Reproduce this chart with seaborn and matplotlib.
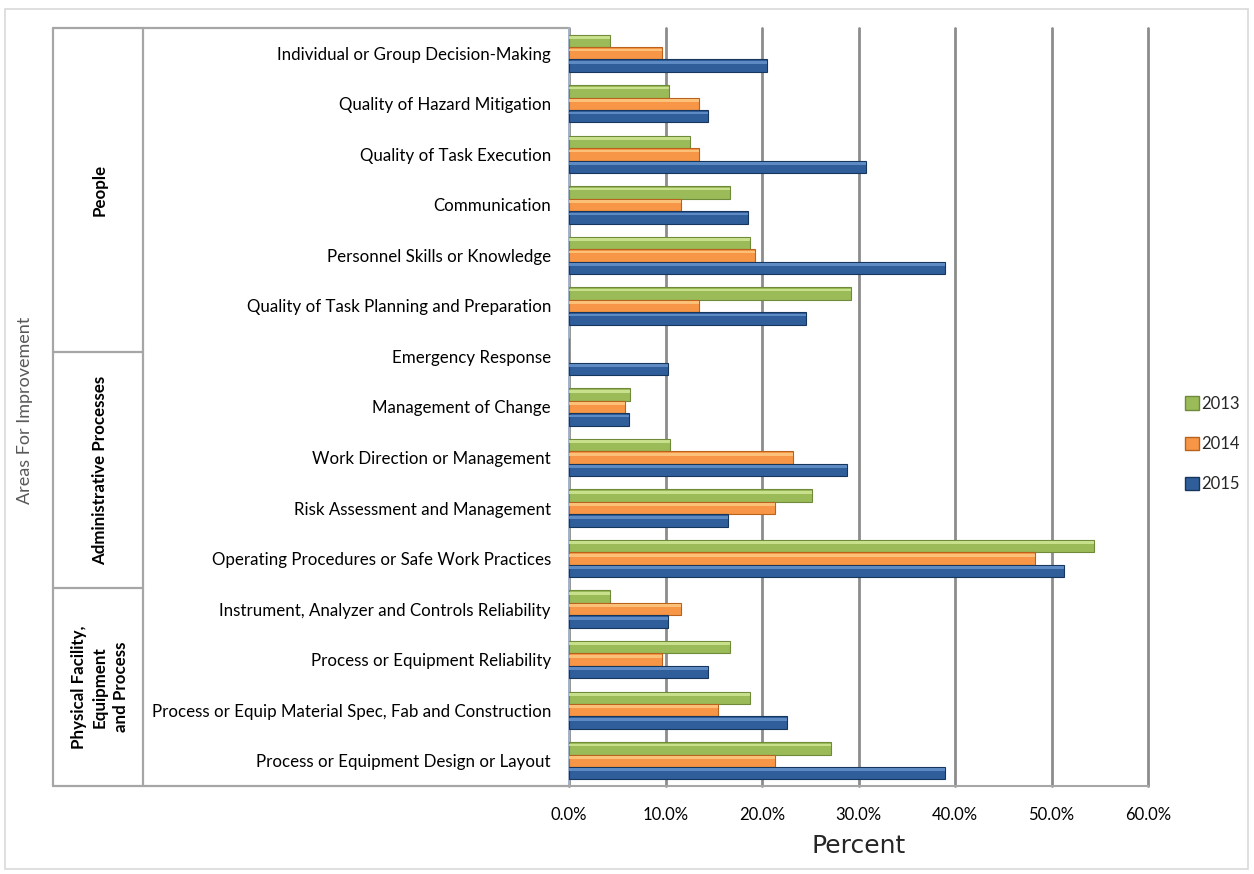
import matplotlib
matplotlib.use("Agg")
import matplotlib.pyplot as plt
from matplotlib.lines import Line2D
from matplotlib.patches import Rectangle, Patch
from matplotlib.ticker import FixedLocator, PercentFormatter
import seaborn as sns
import pandas as pd
import numpy as np

categories = [
    "Individual or Group Decision-Making",
    "Quality of Hazard Mitigation",
    "Quality of Task Execution",
    "Communication",
    "Personnel Skills or Knowledge",
    "Quality of Task Planning and Preparation",
    "Emergency Response",
    "Management of Change",
    "Work Direction or Management",
    "Risk Assessment and Management",
    "Operating Procedures or Safe Work Practices",
    "Instrument, Analyzer and Controls Reliability",
    "Process or Equipment Reliability",
    "Process or Equip Material Spec, Fab and Construction",
    "Process or Equipment Design or Layout",
]
years = ["2013", "2014", "2015"]
v2013 = [4.2, 10.4, 12.5, 16.7, 18.8, 29.2, 0.0, 6.3, 10.5, 25.2, 54.4, 4.2, 16.7, 18.8, 27.2]
v2014 = [9.6, 13.5, 13.5, 11.6, 19.3, 13.5, 0.0, 5.8, 23.2, 21.3, 48.3, 11.6, 9.6, 15.4, 21.3]
v2015 = [20.5, 14.4, 30.8, 18.5, 39.0, 24.6, 10.3, 6.2, 28.8, 16.5, 51.3, 10.3, 14.4, 22.6, 39.0]
groups = ["People", "Administrative Processes", "Physical Facility,\nEquipment\nand Process"]
x_ticks = [0, 10, 20, 30, 40, 50, 60]

colors = {"2013": "#9BBB59", "2014": "#F79646", "2015": "#2F5E9B"}
edges = {"2013": "#6E8A3A", "2014": "#B8621E", "2015": "#17365D"}
lights = {"2013": "#D8EC9C", "2014": "#FFD08A", "2015": "#6F9AD3"}

df = pd.DataFrame({
    "Area": categories * 3,
    "Year": [y for y, v in zip(years, [v2013, v2014, v2015]) for _ in v],
    "Percent": v2013 + v2014 + v2015,
})

sns.set_theme(style="white")
plt.rcParams["font.family"] = ["Lato", "DejaVu Sans"]

W, H = 1254, 874
fig = plt.figure(figsize=(W / 100, H / 100), dpi=100)
L, R, T, B = 569, 1148, 28, 786
ax = fig.add_axes([L / W, 1 - B / H, (R - L) / W, (B - T) / H])

sns.barplot(data=df, y="Area", x="Percent", hue="Year", hue_order=years,
            order=categories, palette=colors, width=0.74, orient="h",
            saturation=1, ax=ax, legend=False, zorder=3)

# bevel-like styling derived from each bar patch
for i, yr in enumerate(years):
    for p in ax.containers[i]:
        p.set_edgecolor(edges[yr])
        p.set_linewidth(0.8)
        x0, y0 = p.get_x(), p.get_y()
        w, h = p.get_width(), p.get_height()
        if w > 0:
            ax.add_patch(Rectangle((x0, y0 + h * 0.12), w, h * 0.22,
                                   facecolor=lights[yr], edgecolor="none",
                                   alpha=0.75, zorder=4))

ax.set_xlim(0, 60)
ax.set_ylim(len(categories) - 0.5, -0.5)
ax.xaxis.set_major_locator(FixedLocator(x_ticks))
ax.xaxis.set_major_formatter(PercentFormatter(decimals=1))
ax.grid(axis="x", color="#8C8C8C", linewidth=2.0, zorder=0)
ax.grid(axis="y", visible=False)
ax.set_axisbelow(True)
for gl in ax.get_xgridlines():
    gl.set_clip_on(False)

for s in ["top", "right"]:
    ax.spines[s].set_visible(False)
ax.spines["left"].set_color("#A6B9D6")
ax.spines["left"].set_linewidth(1.2)
ax.spines["bottom"].set_color("#A6A6A6")
ax.spines["bottom"].set_linewidth(1.5)

ax.tick_params(axis="x", which="major", direction="out", length=5, width=1.2,
               color="#8C8C8C", labelsize=12, labelcolor="#000000", pad=10)
ax.tick_params(axis="y", which="major", length=0, labelsize=12.2,
               labelcolor="#000000", pad=13)
ax.set_yticks(np.arange(len(categories) + 1) - 0.5, minor=True)
ax.tick_params(axis="y", which="minor", direction="out", length=4.5, width=1.5,
               color="#5B85C0")

ax.set_ylabel("")
ax.set_xlabel("Percent", fontsize=18, color="#262626", labelpad=8,
              family=["DejaVu Sans"])

# Legend
handles = [Patch(facecolor=colors[y], edgecolor=edges[y]) for y in years]
fig.legend(handles, years, loc="center left",
           bbox_to_anchor=(1170 / W, 1 - 444 / H), frameon=False,
           fontsize=12, handlelength=0.85, handleheight=0.85,
           handletextpad=0.15, labelspacing=1.45)

# Overlay for the multi-level category frame
ov = fig.add_axes([0, 0, 1, 1], zorder=-1)
ov.set_xlim(0, W)
ov.set_ylim(H, 0)
ov.axis("off")
lc = "#A6A6A6"
lw = 1.6
ov.add_line(Line2D([53, L], [T, T], color=lc, lw=lw))
ov.add_line(Line2D([53, L], [B, B], color=lc, lw=lw))
ov.add_line(Line2D([53, 53], [T, B], color=lc, lw=lw))
ov.add_line(Line2D([143, 143], [T, B], color=lc, lw=lw))
bounds = [T, 352, 588, B]
for yb in bounds[1:-1]:
    ov.add_line(Line2D([53, 143], [yb, yb], color=lc, lw=lw))
for g, (y0, y1) in zip(groups, zip(bounds[:-1], bounds[1:])):
    ov.text(100, (y0 + y1) / 2, g, rotation=90, ha="center", va="center",
            fontsize=12.2, fontweight="bold", color="#000000",
            multialignment="center", linespacing=1.35)
ov.text(25, 410, "Areas For Improvement", rotation=90, ha="center", va="center",
        fontsize=13, color="#595959")
# outer chart frame
ov.add_patch(Rectangle((5, 9), 1243, 860, facecolor="none", edgecolor="#D9D9D9", lw=1.2))

fig.savefig("out.png", dpi=100)
